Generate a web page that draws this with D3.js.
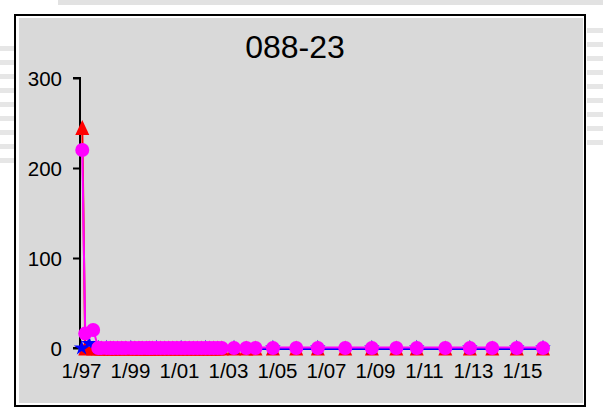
<!DOCTYPE html>
<html>
<head>
<meta charset="utf-8">
<script src="https://cdn.jsdelivr.net/npm/d3@7/dist/d3.min.js"></script>
<style>
  html, body { margin: 0; padding: 0; background: #ffffff; }
  svg { display: block; font-family: "Liberation Sans", Arial, sans-serif; }
</style>
</head>
<body>
<svg id="chart" width="603" height="410"></svg>
<script>
// ---------- data ----------
const title = "088-23";
const dates = [
  "1997-01-20", "1997-03-05", "1997-07-01", "1997-09-15", "1997-11-01",
  "1998-01-15", "1998-03-15", "1998-05-01", "1998-07-01", "1998-09-01",
  "1998-11-01", "1999-01-15", "1999-03-15", "1999-05-15", "1999-07-01",
  "1999-09-01", "1999-10-15", "1999-12-01", "2000-02-01", "2000-04-01",
  "2000-06-01", "2000-08-01", "2000-10-01", "2000-12-01", "2001-02-01",
  "2001-04-01", "2001-06-01", "2001-08-01", "2001-10-01", "2001-12-01",
  "2002-02-01", "2002-04-01", "2002-06-01", "2002-08-01", "2002-10-01",
  "2003-04-01", "2003-10-01", "2004-02-15", "2004-11-01", "2005-10-15",
  "2006-09-01", "2007-10-15", "2008-11-15", "2009-11-15", "2010-09-15",
  "2011-11-15", "2012-11-15", "2013-10-15", "2014-10-15", "2015-11-10"
];
const redValues = [245, 0, 0, 0, 0, 0, 0, 0, 0, 0, 0, 0, 0, 0, 0, 0, 0, 0, 0, 0,
  0, 0, 0, 0, 0, 0, 0, 0, 0, 0, 0, 0, 0, 0, 0, 0, 0, 0, 0, 0,
  0, 0, 0, 0, 0, 0, 0, 0, 0, 0];
const magentaValues = [220, 16, 20, 0, 0, 0, 0, 0, 0, 0, 0, 0, 0, 0, 0, 0, 0, 0, 0, 0,
  0, 0, 0, 0, 0, 0, 0, 0, 0, 0, 0, 0, 0, 0, 0, 0, 0, 0, 0, 0,
  0, 0, 0, 0, 0, 0, 0, 0, 0, 0];
const blueDates = ["1997-01-10", "1997-05-01", "1997-09-15", "1998-01-15", "1999-01-15",
  "2000-02-01", "2001-02-01", "2002-02-01", "2003-04-01", "2004-11-01", "2006-09-01",
  "2008-11-15", "2010-09-15", "2012-11-15", "2014-10-15", "2015-11-10"];
const blueValues = [0, 5, 0, 0, 0, 0, 0, 0, 0, 0, 0, 0, 0, 0, 0, 0];
const yTicks = [0, 100, 200, 300];
const xTickYears = [1997, 1999, 2001, 2003, 2005, 2007, 2009, 2011, 2013, 2015];

// ---------- setup ----------
const svg = d3.select("#chart");
const parse = d3.timeParse("%Y-%m-%d");

// faint background artifacts outside the chart box
const bg = svg.append("g");
bg.append("rect").attr("x", 58).attr("y", 0).attr("width", 545).attr("height", 5).attr("fill", "#e2e2e2");
d3.range(46, 170, 14).forEach(yy => {
  bg.append("rect").attr("x", 0).attr("y", yy).attr("width", 14).attr("height", 5).attr("fill", "#e6e6e6");
  bg.append("rect").attr("x", 587).attr("y", yy - 18).attr("width", 16).attr("height", 5).attr("fill", "#e6e6e6");
});

// frame
svg.append("rect").attr("x", 15).attr("y", 15).attr("width", 570).attr("height", 391)
  .attr("fill", "#ffffff").attr("stroke", "#000").attr("stroke-width", 2);
svg.append("rect").attr("x", 19).attr("y", 18).attr("width", 564).attr("height", 385)
  .attr("fill", "#d9d9d9");

// title
svg.append("text").attr("x", 295).attr("y", 58).attr("text-anchor", "middle")
  .attr("font-size", 32).attr("fill", "#000").text(title);

// scales
const x = d3.scaleTime()
  .domain([new Date(1997, 0, 1), new Date(2015, 0, 1)])
  .range([81, 522]);
const y = d3.scaleLinear().domain([0, 300]).range([348, 78]);

// y axis
const yAxis = d3.axisLeft(y).tickValues(yTicks).tickSize(7).tickPadding(11).tickFormat(d3.format("d"));
const yg = svg.append("g").attr("transform", "translate(80,0)").call(yAxis);
yg.select(".domain").attr("stroke", "#000").attr("stroke-width", 2).attr("d", "M-7,78H0V348H-7");
yg.selectAll(".tick line").attr("stroke", "#000").attr("stroke-width", 2);
yg.selectAll(".tick text").attr("font-size", 20.5).attr("fill", "#000")
  .attr("font-family", "Liberation Sans, Arial, sans-serif").attr("dy", "0.36em");

// x axis labels (no domain line)
const xAxis = d3.axisBottom(x).tickValues(xTickYears.map(yr => new Date(yr, 0, 1)))
  .tickSize(0).tickPadding(0).tickFormat(d3.timeFormat("%-m/%y"));
const xg = svg.append("g").attr("transform", "translate(0,363)").call(xAxis);
xg.select(".domain").remove();
xg.selectAll(".tick text").attr("font-size", 20.5).attr("fill", "#000")
  .attr("font-family", "Liberation Sans, Arial, sans-serif").attr("dy", "0.71em");

// series
const red = dates.map((d, i) => ({ t: parse(d), v: redValues[i] }));
const mag = dates.map((d, i) => ({ t: parse(d), v: magentaValues[i] }));
const blu = blueDates.map((d, i) => ({ t: parse(d), v: blueValues[i] }));

const line = d3.line().x(d => x(d.t)).y(d => y(d.v));

const plot = svg.append("g");

// red triangles series
plot.append("path").datum(red).attr("d", line).attr("fill", "none")
  .attr("stroke", "#ff0000").attr("stroke-width", 2);
plot.selectAll(".tri").data(red).enter().append("path")
  .attr("class", "tri")
  .attr("transform", d => `translate(${x(d.t)},${y(d.v)})`)
  .attr("d", "M0,-7.5L7,7.5L-7,7.5Z")
  .attr("fill", "#ff0000");

// blue series (drawn slightly under the magenta line)
plot.append("path").datum(blu).attr("d", line).attr("fill", "none")
  .attr("stroke", "#0000ff").attr("stroke-width", 2)
  .attr("transform", "translate(0,1)");
plot.selectAll(".star").data(blu).enter().append("path")
  .attr("class", "star")
  .attr("transform", d => `translate(${x(d.t)},${y(d.v)})`)
  .attr("d", d3.symbol().type(d3.symbolStar).size(75))
  .attr("fill", "#0000ff");

// magenta series
plot.append("path").datum(mag).attr("d", line).attr("fill", "none")
  .attr("stroke", "#ff00ff").attr("stroke-width", 2)
  .attr("transform", "translate(0,-0.5)");
plot.selectAll(".dot").data(mag).enter().append("circle")
  .attr("class", "dot")
  .attr("cx", d => x(d.t)).attr("cy", d => y(d.v)).attr("r", 7)
  .attr("fill", "#ff00ff");
</script>
</body>
</html>
